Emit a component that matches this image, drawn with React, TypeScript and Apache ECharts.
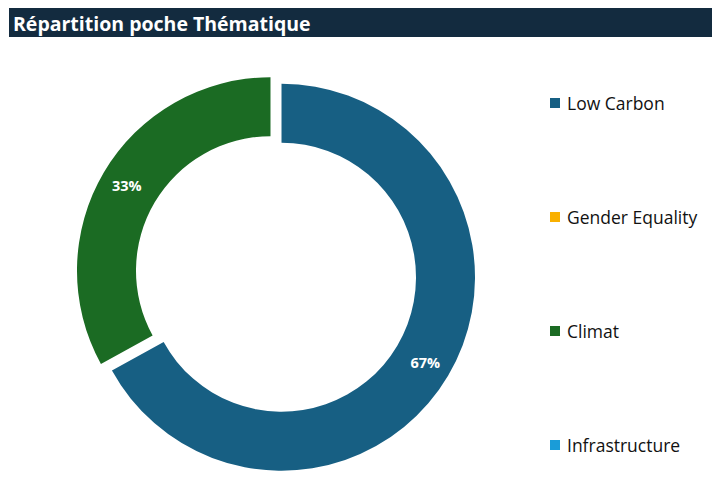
import React, { useEffect, useRef } from "react";
import * as echarts from "echarts";

const titleText = "Répartition poche Thématique";
const categories = ["Low Carbon", "Gender Equality", "Climat", "Infrastructure"];
const values = [67, 0, 33, 0];
const colors = ["#175f83", "#f9b000", "#1b6b23", "#1a9cd8"];

export default function App() {
  const ref = useRef<HTMLDivElement>(null);
  useEffect(() => {
    if (!ref.current) return;
    const chart = echarts.init(ref.current, undefined, { renderer: "svg" });
    const data = categories.map((name, i) => ({
      name,
      value: values[i],
      selected: values[i] > 0,
      itemStyle: { color: colors[i] },
      label: { show: values[i] > 0 },
      labelLine: { show: false },
    }));
    chart.setOption({
      animation: false,
      backgroundColor: "#ffffff",
      graphic: [
        {
          type: "rect",
          shape: { x: 9, y: 8, width: 703, height: 29 },
          style: { fill: "#132b3f" },
        },
        {
          type: "text",
          x: 13,
          y: 23,
          style: {
            text: titleText,
            fill: "#ffffff",
            font: "bold 19.5px 'Open Sans'",
            verticalAlign: "middle",
          },
        },
      ],
      legend: {
        orient: "vertical",
        left: 545,
        top: 88,
        itemWidth: 10,
        itemHeight: 10,
        itemGap: 94,
        icon: "rect",
        data: categories,
        textStyle: {
          fontFamily: "Open Sans",
          fontSize: 17.5,
          color: "#111111",
          lineHeight: 20,
          padding: [0, 0, 0, 2],
        },
      },
      series: [
        {
          type: "pie",
          center: [276, 274],
          radius: [134.5, 193.5],
          startAngle: 90,
          clockwise: true,
          selectedMode: "multiple",
          selectedOffset: 6.4,
          avoidLabelOverlap: false,
          stillShowZeroSum: false,
          label: {
            position: "inside",
            formatter: (p: any) => `${Math.round(p.percent)}%`,
            color: "#ffffff",
            fontFamily: "Open Sans",
            fontWeight: "bold",
            fontSize: 14.5,
          },
          emphasis: { disabled: true },
          data,
        },
      ],
    });
    return () => chart.dispose();
  }, []);
  return (
    <div
      ref={ref}
      style={{ position: "fixed", left: 0, top: 0, width: 717, height: 483 }}
    />
  );
}
